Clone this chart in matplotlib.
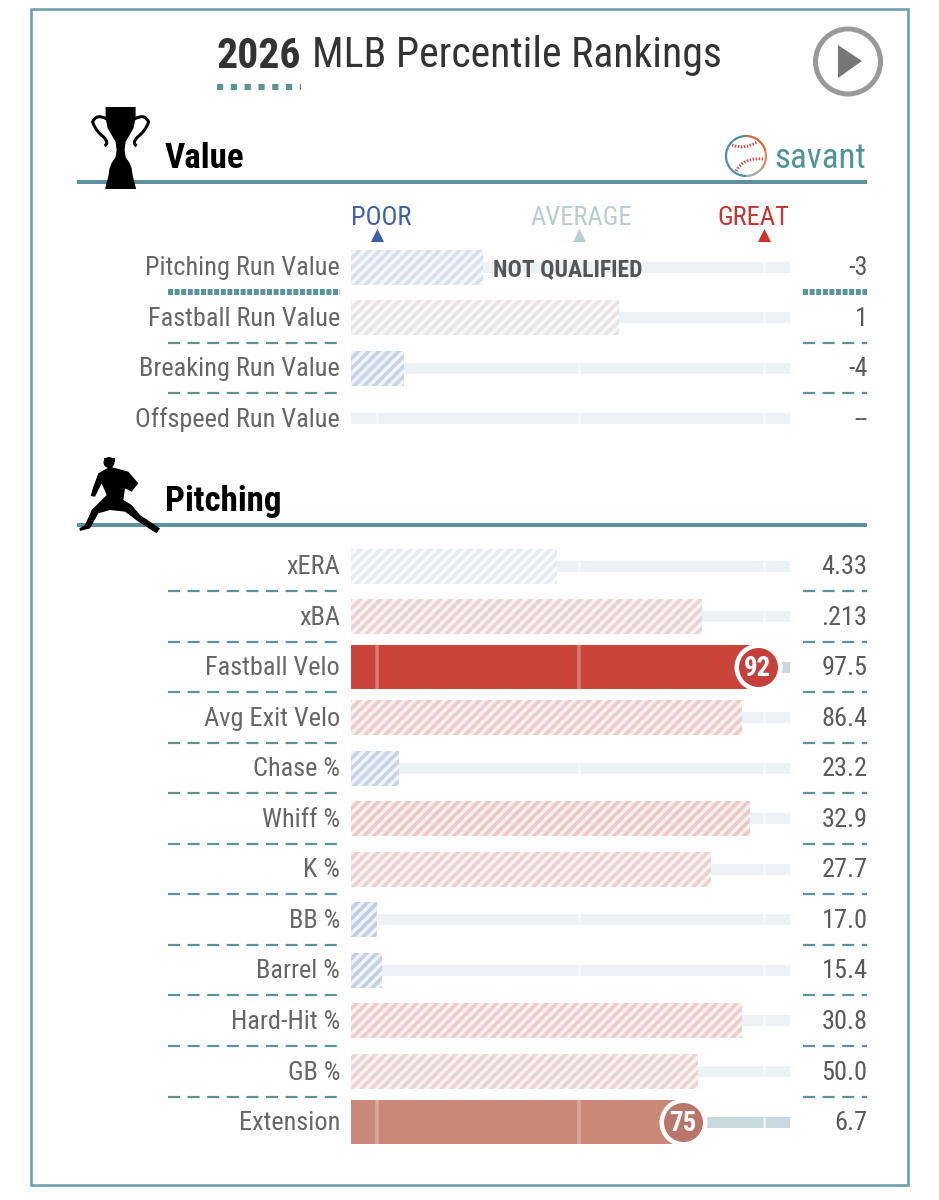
"""
Recreates the Baseball Savant percentile rankings card.
"""

import matplotlib
matplotlib.use("Agg")
import matplotlib.pyplot as plt
from matplotlib import font_manager
from matplotlib.colors import LinearSegmentedColormap, to_rgb
from matplotlib.patches import Arc, Circle, Polygon, Rectangle
from matplotlib.path import Path
from matplotlib.patches import PathPatch

value_labels = ["Pitching Run Value", "Fastball Run Value", "Breaking Run Value", "Offspeed Run Value"]
value_pct = [30, 61, 12, 0]
value_stats = ["-3", "1", "-4", "--"]

pitching_labels = ["xERA", "xBA", "Fastball Velo", "Avg Exit Velo", "Chase %", "Whiff %",
                   "K %", "BB %", "Barrel %", "Hard-Hit %", "GB %", "Extension"]
pitching_pct = [47, 80, 92, 89, 11, 91, 82, 6, 7, 89, 79, 75]
pitching_stats = ["4.33", ".213", "97.5", "86.4", "23.2", "32.9", "27.7", "17.0", "15.4", "30.8", "50.0", "6.7"]
highlighted = ["Fastball Velo", "Extension"]

scale_labels = ["POOR", "AVERAGE", "GREAT"]
scale_marks = [6, 52, 94]
scale_text_pos = [6.8, 52.4, 91.7]
scale_colors = ["#3f5ea8", "#b8cdd3", "#c8342f"]

W, H, DPI = 939, 1200, 120
TEAL = "#5b939c"
PX = 72 / DPI  # one pixel in points

available = {f.name for f in font_manager.fontManager.ttflist}
family = next(n for n in ["Roboto Condensed", "Liberation Sans Narrow", "Roboto"] if n in available)
plt.rcParams["font.family"] = [family, "DejaVu Sans"]
plt.rcParams["hatch.linewidth"] = 3.6 * PX

cmap = LinearSegmentedColormap.from_list("savant", ["#325aa8", "#b4c8d0", "#cf3a30"])

fig = plt.figure(figsize=(W / DPI, H / DPI), dpi=DPI, facecolor="white")

# percentile bars live on their own axis, 0-100 across the track
bars = fig.add_axes([351 / W, 0, 439 / W, 1], zorder=1)
bars.set_xlim(0, 100)
bars.set_ylim(H, 0)
bars.axis("off")

# everything else is placed in pixels on top
ax = fig.add_axes([0, 0, 1, 1], zorder=2)
ax.set_xlim(0, W)
ax.set_ylim(H, 0)
ax.axis("off")


def blend(color, alpha):
    r, g, b = to_rgb(color)
    return (1 - alpha + alpha * r, 1 - alpha + alpha * g, 1 - alpha + alpha * b)


def dashed(x0, x1, y, on, off, width):
    line, = ax.plot([x0, x1], [y, y], color=TEAL, lw=width * PX, solid_capstyle="butt")
    line.set_dashes([on / width, off / width])
    line.set_dash_capstyle("butt")


def draw_row(label, pct, stat, y, sep, thick=False):
    solid = label in highlighted
    color = cmap(pct / 100)
    track = "#c9dade" if solid else "#ecf1f3"

    bars.barh(y, 100, height=11, color=track, linewidth=0, zorder=1)
    for tick in scale_marks:
        bars.plot([tick, tick], [y - 5.5, y + 5.5], color="white", lw=2.5 * PX, alpha=0.6, zorder=2,
                  solid_capstyle="butt")

    if solid:
        shade = "#c9443a" if pct > 85 else "#c98878"
        bars.barh(y, pct, height=44, color=shade, linewidth=0, zorder=3)
        for tick in scale_marks[:2]:
            bars.plot([tick, tick], [y - 22, y + 22], color="white", lw=3.5 * PX, alpha=0.3, zorder=4,
                      solid_capstyle="butt")
        dot = "#c5403a" if pct > 85 else "#b9756a"
        bars.scatter([pct + 0.6], [y], s=(48 * PX) ** 2, color="white", linewidth=0, zorder=5)
        bars.scatter([pct + 0.6], [y], s=(39 * PX) ** 2, color=dot, linewidth=0, zorder=6)
        bars.text(pct + 0.6, y + 1, str(pct), color="white", fontsize=27 * PX, fontweight="bold",
                  ha="center", va="center", zorder=7)
    elif pct > 0:
        bars.barh(y, pct, height=35, color="white", linewidth=0, zorder=3)
        bars.barh(y, pct, height=35, color=blend(color, 0.08), edgecolor=blend(color, 0.32),
                  hatch="////", linewidth=0, zorder=4)

    ax.text(340, y + 1, label, color="#666666", fontsize=26.2 * PX, ha="right", va="center")
    ax.text(867.5, y + 1, stat, color="#5a5a5a", fontsize=26.2 * PX, ha="right", va="center")

    if sep:
        if thick:
            dashed(168, 340, y + 25, 5, 1.6, 6)
            dashed(803, 867, y + 25, 5, 1.6, 6)
        else:
            dashed(168, 340, y + 25, 12, 7.6, 2.2)
            dashed(803, 867, y + 25, 12, 7.6, 2.2)


def draw_trophy(cx=120.6):
    profile = [(107, 15), (118, 15), (128, 13), (135, 9), (142, 5), (150, 4), (157, 5),
               (163, 9), (168, 11), (175, 12), (189, 15.5)]
    pts = [(cx - w, y) for y, w in profile] + [(cx + w, y) for y, w in reversed(profile)]
    ax.add_patch(Polygon(pts, closed=True, color="black", linewidth=0, zorder=6))
    for side in (-1, 1):
        verts = [(cx + side * 14, 119), (cx + side * 24, 113), (cx + side * 28, 122),
                 (cx + side * 25, 131), (cx + side * 17, 137), (cx + side * 11, 143), (cx + side * 16, 146)]
        codes = [Path.MOVETO] + [Path.CURVE3] * 6
        ax.add_patch(PathPatch(Path(verts, codes), fill=False, edgecolor="black", lw=3 * PX, zorder=6))


def draw_pitcher():
    outline = [(115, 70), (150, 50), (205, 65), (235, 100), (215, 125), (195, 115), (190, 150),
               (215, 165), (240, 195), (300, 235), (290, 250), (235, 215), (195, 185), (150, 180),
               (115, 190), (90, 235), (60, 243), (58, 235), (75, 225), (95, 180), (125, 150),
               (140, 135), (125, 100), (105, 140), (92, 138), (100, 110)]
    pts = [(60 + x / 3, 450 + y / 3) for x, y in outline]
    ax.add_patch(Polygon(pts, closed=True, color="black", linewidth=0, zorder=6))
    ax.add_patch(Circle((109, 462.5), 5.5, color="black", linewidth=0, zorder=6))
    ax.add_patch(Rectangle((104, 457.5), 11, 4, color="black", linewidth=0, zorder=6))


def draw_logo(cx=746, cy=156, r=20):
    # y axis is inverted so arc angles run clockwise on screen
    for start, end, color in [(90, 270, "#4f8f98"), (270, 345, "#d9673c"), (345, 400, "#e08a5c"),
                              (40, 90, "#a8a8a8")]:
        ax.add_patch(Arc((cx, cy), 2 * r, 2 * r, theta1=start, theta2=end, color=color, lw=2.2 * PX))
    for verts in ([(cx - 14, cy - 11), (cx - 2, cy - 6), (cx + 11, cy - 14)],
                  [(cx - 10, cy + 15), (cx - 2, cy + 1), (cx + 18, cy + 3)]):
        codes = [Path.MOVETO, Path.CURVE3, Path.CURVE3]
        patch = PathPatch(Path(verts, codes), fill=False, edgecolor="#d9534a", lw=3 * PX,
                          linestyle=(0, (0.5, 0.5)))
        ax.add_patch(patch)


# frame
ax.add_patch(Rectangle((31, 9), 877, 1176, fill=False, edgecolor="#6a9fae", lw=2.6 * PX))

# title
title_size = 41.7 * PX
year = ax.text(217, 56, "2026", color="#333333", fontsize=title_size, fontweight="bold", va="center")
fig.canvas.draw()
year_end = year.get_window_extent().x1
ax.text(year_end + 11, 56, "MLB Percentile Rankings", color="#333333", fontsize=title_size, va="center")
dashed(217, 301, 87, 6.2, 7.6, 6)

# play button
ax.add_patch(Circle((848, 61.5), 32.5, fill=False, edgecolor="#999999", lw=5 * PX))
ax.add_patch(Polygon([(838, 45), (862, 61), (838, 78)], closed=True, color="#777777", linewidth=0))

# value section
ax.text(165, 158, "Value", color="black", fontsize=35 * PX, fontweight="bold", va="center")
ax.plot([77, 867], [182, 182], color=TEAL, lw=4 * PX, solid_capstyle="butt")
draw_trophy()
draw_logo()
ax.text(866, 158, "savant", color="#4f9499", fontsize=35 * PX, ha="right", va="center")

for name, mark, text_pos, c in zip(scale_labels, scale_marks, scale_text_pos, scale_colors):
    bars.text(text_pos, 218, name, color=c, fontsize=26.5 * PX, ha="center", va="center")
    bars.scatter([mark], [234.5], marker="^", s=(11.5 * PX) ** 2 * 1.3, color=c, linewidth=0)

for i, (label, pct, stat) in enumerate(zip(value_labels, value_pct, value_stats)):
    y = 267 + 50.6 * i
    draw_row(label, pct, stat, y, i < len(value_labels) - 1, thick=i == 0)
ax.text(493, 270, "NOT QUALIFIED", color="#555555", fontsize=23.6 * PX, fontweight="bold", va="center",
        zorder=8)

# pitching section
ax.text(165, 501, "Pitching", color="black", fontsize=35 * PX, fontweight="bold", va="center")
ax.plot([77, 867], [524.5, 524.5], color=TEAL, lw=4 * PX, solid_capstyle="butt")
draw_pitcher()

for i, (label, pct, stat) in enumerate(zip(pitching_labels, pitching_pct, pitching_stats)):
    y = 566 + 50.55 * i
    draw_row(label, pct, stat, y, i < len(pitching_labels) - 1)

fig.savefig("out.png", dpi=DPI, facecolor="white")
plt.close(fig)
